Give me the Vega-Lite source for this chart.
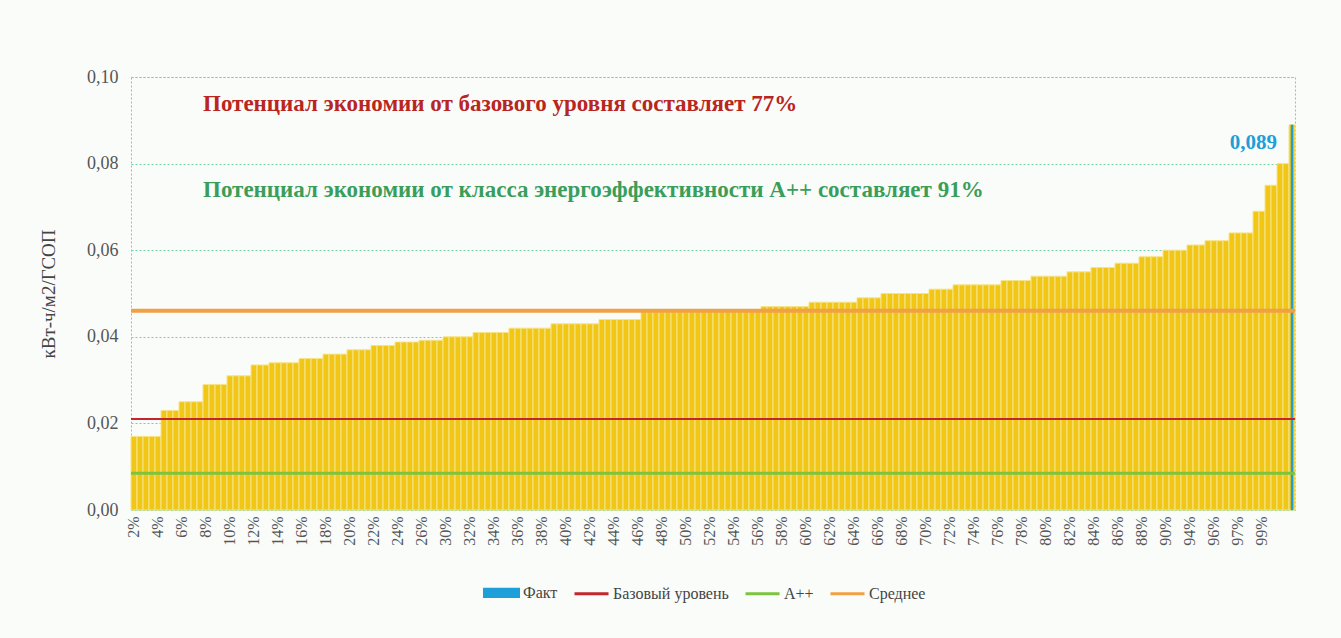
{
  "$schema": "https://vega.github.io/schema/vega-lite/v6.json",
  "width": 1164,
  "height": 433,
  "autosize": {"type": "none"},
  "padding": {"left": 131, "top": 77, "right": 46, "bottom": 128},
  "background": "#FAFCFA",
  "config": {
    "font": "Liberation Serif",
    "view": {"stroke": "#74D3A2", "strokeDash": [2, 2], "strokeWidth": 1, "fill": "#FAFCFA"},
    "locale": {"number": {"decimal": ",", "thousands": " ", "grouping": [3], "currency": ["", ""]}},
    "axisY": {"values": [0, 0.02, 0.04, 0.06, 0.08, 0.1], "format": ".2f", "labelOverlap": false}
  },
  "data": {"values": [
    {"pos":"2%","v":0.017},{"pos":"2%-1","v":0.017},{"pos":"2%-2","v":0.017},{"pos":"2%-3","v":0.017},
    {"pos":"4%","v":0.017},{"pos":"4%-1","v":0.023},{"pos":"4%-2","v":0.023},{"pos":"4%-3","v":0.023},
    {"pos":"6%","v":0.025},{"pos":"6%-1","v":0.025},{"pos":"6%-2","v":0.025},{"pos":"6%-3","v":0.025},
    {"pos":"8%","v":0.029},{"pos":"8%-1","v":0.029},{"pos":"8%-2","v":0.029},{"pos":"8%-3","v":0.029},
    {"pos":"10%","v":0.031},{"pos":"10%-1","v":0.031},{"pos":"10%-2","v":0.031},{"pos":"10%-3","v":0.031},
    {"pos":"12%","v":0.0335},{"pos":"12%-1","v":0.0335},{"pos":"12%-2","v":0.0335},{"pos":"12%-3","v":0.034},
    {"pos":"14%","v":0.034},{"pos":"14%-1","v":0.034},{"pos":"14%-2","v":0.034},{"pos":"14%-3","v":0.034},
    {"pos":"16%","v":0.035},{"pos":"16%-1","v":0.035},{"pos":"16%-2","v":0.035},{"pos":"16%-3","v":0.035},
    {"pos":"18%","v":0.036},{"pos":"18%-1","v":0.036},{"pos":"18%-2","v":0.036},{"pos":"18%-3","v":0.036},
    {"pos":"20%","v":0.037},{"pos":"20%-1","v":0.037},{"pos":"20%-2","v":0.037},{"pos":"20%-3","v":0.037},
    {"pos":"22%","v":0.038},{"pos":"22%-1","v":0.038},{"pos":"22%-2","v":0.038},{"pos":"22%-3","v":0.038},
    {"pos":"24%","v":0.0388},{"pos":"24%-1","v":0.0388},{"pos":"24%-2","v":0.0388},{"pos":"24%-3","v":0.0388},
    {"pos":"26%","v":0.0392},{"pos":"26%-1","v":0.0392},{"pos":"26%-2","v":0.0392},{"pos":"26%-3","v":0.0392},
    {"pos":"30%","v":0.040},{"pos":"30%-1","v":0.040},{"pos":"30%-2","v":0.040},{"pos":"30%-3","v":0.040},
    {"pos":"32%","v":0.040},{"pos":"32%-1","v":0.041},{"pos":"32%-2","v":0.041},{"pos":"32%-3","v":0.041},
    {"pos":"34%","v":0.041},{"pos":"34%-1","v":0.041},{"pos":"34%-2","v":0.041},{"pos":"34%-3","v":0.042},
    {"pos":"36%","v":0.042},{"pos":"36%-1","v":0.042},{"pos":"36%-2","v":0.042},{"pos":"36%-3","v":0.042},
    {"pos":"38%","v":0.042},{"pos":"38%-1","v":0.042},{"pos":"38%-2","v":0.043},{"pos":"38%-3","v":0.043},
    {"pos":"40%","v":0.043},{"pos":"40%-1","v":0.043},{"pos":"40%-2","v":0.043},{"pos":"40%-3","v":0.043},
    {"pos":"42%","v":0.043},{"pos":"42%-1","v":0.043},{"pos":"42%-2","v":0.044},{"pos":"42%-3","v":0.044},
    {"pos":"44%","v":0.044},{"pos":"44%-1","v":0.044},{"pos":"44%-2","v":0.044},{"pos":"44%-3","v":0.044},
    {"pos":"46%","v":0.044},{"pos":"46%-1","v":0.0458},{"pos":"46%-2","v":0.0458},{"pos":"46%-3","v":0.0458},
    {"pos":"48%","v":0.0458},{"pos":"48%-1","v":0.0458},{"pos":"48%-2","v":0.0458},{"pos":"48%-3","v":0.0458},
    {"pos":"50%","v":0.0458},{"pos":"50%-1","v":0.0458},{"pos":"50%-2","v":0.0458},{"pos":"50%-3","v":0.0462},
    {"pos":"52%","v":0.0462},{"pos":"52%-1","v":0.0462},{"pos":"52%-2","v":0.0462},{"pos":"52%-3","v":0.0462},
    {"pos":"54%","v":0.0462},{"pos":"54%-1","v":0.0462},{"pos":"54%-2","v":0.0462},{"pos":"54%-3","v":0.0462},
    {"pos":"56%","v":0.0462},{"pos":"56%-1","v":0.047},{"pos":"56%-2","v":0.047},{"pos":"56%-3","v":0.047},
    {"pos":"58%","v":0.047},{"pos":"58%-1","v":0.047},{"pos":"58%-2","v":0.047},{"pos":"58%-3","v":0.047},
    {"pos":"60%","v":0.047},{"pos":"60%-1","v":0.048},{"pos":"60%-2","v":0.048},{"pos":"60%-3","v":0.048},
    {"pos":"62%","v":0.048},{"pos":"62%-1","v":0.048},{"pos":"62%-2","v":0.048},{"pos":"62%-3","v":0.048},
    {"pos":"64%","v":0.048},{"pos":"64%-1","v":0.049},{"pos":"64%-2","v":0.049},{"pos":"64%-3","v":0.049},
    {"pos":"66%","v":0.049},{"pos":"66%-1","v":0.050},{"pos":"66%-2","v":0.050},{"pos":"66%-3","v":0.050},
    {"pos":"68%","v":0.050},{"pos":"68%-1","v":0.050},{"pos":"68%-2","v":0.050},{"pos":"68%-3","v":0.050},
    {"pos":"70%","v":0.050},{"pos":"70%-1","v":0.051},{"pos":"70%-2","v":0.051},{"pos":"70%-3","v":0.051},
    {"pos":"72%","v":0.051},{"pos":"72%-1","v":0.052},{"pos":"72%-2","v":0.052},{"pos":"72%-3","v":0.052},
    {"pos":"74%","v":0.052},{"pos":"74%-1","v":0.052},{"pos":"74%-2","v":0.052},{"pos":"74%-3","v":0.052},
    {"pos":"76%","v":0.052},{"pos":"76%-1","v":0.053},{"pos":"76%-2","v":0.053},{"pos":"76%-3","v":0.053},
    {"pos":"78%","v":0.053},{"pos":"78%-1","v":0.053},{"pos":"78%-2","v":0.054},{"pos":"78%-3","v":0.054},
    {"pos":"80%","v":0.054},{"pos":"80%-1","v":0.054},{"pos":"80%-2","v":0.054},{"pos":"80%-3","v":0.054},
    {"pos":"82%","v":0.055},{"pos":"82%-1","v":0.055},{"pos":"82%-2","v":0.055},{"pos":"82%-3","v":0.055},
    {"pos":"84%","v":0.056},{"pos":"84%-1","v":0.056},{"pos":"84%-2","v":0.056},{"pos":"84%-3","v":0.056},
    {"pos":"86%","v":0.057},{"pos":"86%-1","v":0.057},{"pos":"86%-2","v":0.057},{"pos":"86%-3","v":0.057},
    {"pos":"88%","v":0.0585},{"pos":"88%-1","v":0.0585},{"pos":"88%-2","v":0.0585},{"pos":"88%-3","v":0.0585},
    {"pos":"90%","v":0.060},{"pos":"90%-1","v":0.060},{"pos":"90%-2","v":0.060},{"pos":"90%-3","v":0.060},
    {"pos":"94%","v":0.0612},{"pos":"94%-1","v":0.0612},{"pos":"94%-2","v":0.0612},{"pos":"94%-3","v":0.0622},
    {"pos":"96%","v":0.0622},{"pos":"96%-1","v":0.0622},{"pos":"96%-2","v":0.0622},{"pos":"96%-3","v":0.064},
    {"pos":"97%","v":0.064},{"pos":"97%-1","v":0.064},{"pos":"97%-2","v":0.064},{"pos":"97%-3","v":0.069},
    {"pos":"99%","v":0.069},{"pos":"99%-1","v":0.075},{"pos":"99%-2","v":0.075},{"pos":"99%-3","v":0.080},
    {"pos":"99%-4","v":0.080},{"pos":"99%-5","v":0.089}
  ]},
  "layer": [
    {
      "mark": {"type": "bar", "fill": "#F2C615", "stroke": "#F7E48A", "strokeWidth": 1},
      "encoding": {
        "x": {"field": "pos", "type": "nominal", "sort": null,
              "scale": {"paddingInner": 0, "paddingOuter": 0},
              "axis": {"title": null, "labelAngle": 270, "labelFontSize": 16, "labelColor": "#555555",
                       "labelPadding": 6, "ticks": false, "domain": false, "grid": false,
                       "values": ["2%","4%","6%","8%","10%","12%","14%","16%","18%","20%","22%","24%","26%","30%","32%","34%","36%","38%","40%","42%","44%","46%","48%","50%","52%","54%","56%","58%","60%","62%","64%","66%","68%","70%","72%","74%","76%","78%","80%","82%","84%","86%","88%","90%","94%","96%","97%","99%"]}},
        "y": {"field": "v", "type": "quantitative",
              "scale": {"domain": [0, 0.1], "nice": false},
              "axis": {"title": "кВт-ч/м2/ГСОП", "titleFont": "Liberation Serif", "titleFontSize": 19,
                       "titleFontWeight": "normal", "titleColor": "#444444", "titlePadding": 28,
                       "format": ".2f", "values": [0, 0.02, 0.04, 0.06, 0.08, 0.1],
                       "labelFontSize": 18, "labelColor": "#555555", "labelPadding": 13,
                       "labelOverlap": false, "ticks": false, "domain": false,
                       "gridColor": "#74D3A2", "gridDash": [2, 2], "gridWidth": 1.2}}
      }
    },
    {
      "transform": [{"filter": "datum.pos == '99%-5'"}],
      "mark": {"type": "bar", "color": "#1E9FD8", "width": {"band": 0.4}},
      "encoding": {
        "x": {"field": "pos", "type": "nominal", "sort": null},
        "y": {"field": "v", "type": "quantitative"}
      }
    },
    {
      "data": {"values": [{"level": "Базовый уровень", "v": 0.021}]},
      "mark": {"type": "rule", "color": "#C1272D", "strokeWidth": 2},
      "encoding": {"y": {"field": "v", "type": "quantitative"}}
    },
    {
      "data": {"values": [{"level": "A++", "v": 0.0085}]},
      "mark": {"type": "rule", "color": "#7DC33E", "strokeWidth": 3},
      "encoding": {"y": {"field": "v", "type": "quantitative"}}
    },
    {
      "data": {"values": [{"level": "Среднее", "v": 0.046}]},
      "mark": {"type": "rule", "color": "#F0A045", "strokeWidth": 4},
      "encoding": {"y": {"field": "v", "type": "quantitative"}}
    },
    {
      "transform": [{"filter": "datum.pos == '8%'"}],
      "mark": {"type": "text", "align": "left", "baseline": "middle", "fontSize": 23, "fontWeight": "bold",
               "color": "#B8261F", "font": "Liberation Serif"},
      "encoding": {
        "x": {"field": "pos", "type": "nominal", "sort": null, "bandPosition": 0},
        "y": {"datum": 0.0938},
        "text": {"value": "Потенциал экономии от базового уровня составляет 77%"}
      }
    },
    {
      "transform": [{"filter": "datum.pos == '8%'"}],
      "mark": {"type": "text", "align": "left", "baseline": "middle", "fontSize": 23, "fontWeight": "bold",
               "color": "#3A9E5A", "font": "Liberation Serif"},
      "encoding": {
        "x": {"field": "pos", "type": "nominal", "sort": null, "bandPosition": 0},
        "y": {"datum": 0.0739},
        "text": {"value": "Потенциал экономии от класса энергоэффективности А++ составляет 91%"}
      }
    },
    {
      "transform": [{"filter": "datum.pos == '99%-5'"}],
      "mark": {"type": "text", "align": "right", "baseline": "middle", "fontSize": 21, "fontWeight": "bold",
               "color": "#1E9FD8", "font": "Liberation Serif", "dx": -15, "dy": 18},
      "encoding": {
        "x": {"field": "pos", "type": "nominal", "sort": null},
        "y": {"field": "v", "type": "quantitative"},
        "text": {"field": "v", "type": "quantitative", "format": ".3f"}
      }
    },
    {
      "data": {"values": [
        {"series": "Факт"}, {"series": "Базовый уровень"}, {"series": "A++"}, {"series": "Среднее"}
      ]},
      "mark": {"type": "point", "filled": true, "size": 1156, "strokeWidth": 3, "opacity": 1},
      "encoding": {
        "y": {"field": "missing", "type": "quantitative"},
        "color": {"field": "series", "type": "nominal",
                  "scale": {"domain": ["Факт", "Базовый уровень", "A++", "Среднее"],
                            "range": ["#1E9FD8", "#C1272D", "#7DC33E", "#F0A045"]},
                  "legend": {"title": null, "orient": "none", "legendX": 352, "legendY": 497,
                             "direction": "horizontal", "labelFontSize": 16, "labelColor": "#444444",
                             "labelFont": "Liberation Serif", "symbolSize": 1156, "symbolStrokeWidth": 3,
                             "symbolOpacity": 1, "columnPadding": 10, "labelOffset": 3}},
        "stroke": {"field": "series", "type": "nominal",
                   "scale": {"domain": ["Факт", "Базовый уровень", "A++", "Среднее"],
                             "range": ["#1E9FD8", "#C1272D", "#7DC33E", "#F0A045"]}},
        "shape": {"field": "series", "type": "nominal",
                  "scale": {"domain": ["Факт", "Базовый уровень", "A++", "Среднее"],
                            "range": ["M-1,-0.22H1V0.22H-1Z", "M-1,0H1", "M-1,0H1", "M-1,0H1"]}}
      }
    }
  ],
  "resolve": {"scale": {"y": "shared", "x": "shared"}}
}
